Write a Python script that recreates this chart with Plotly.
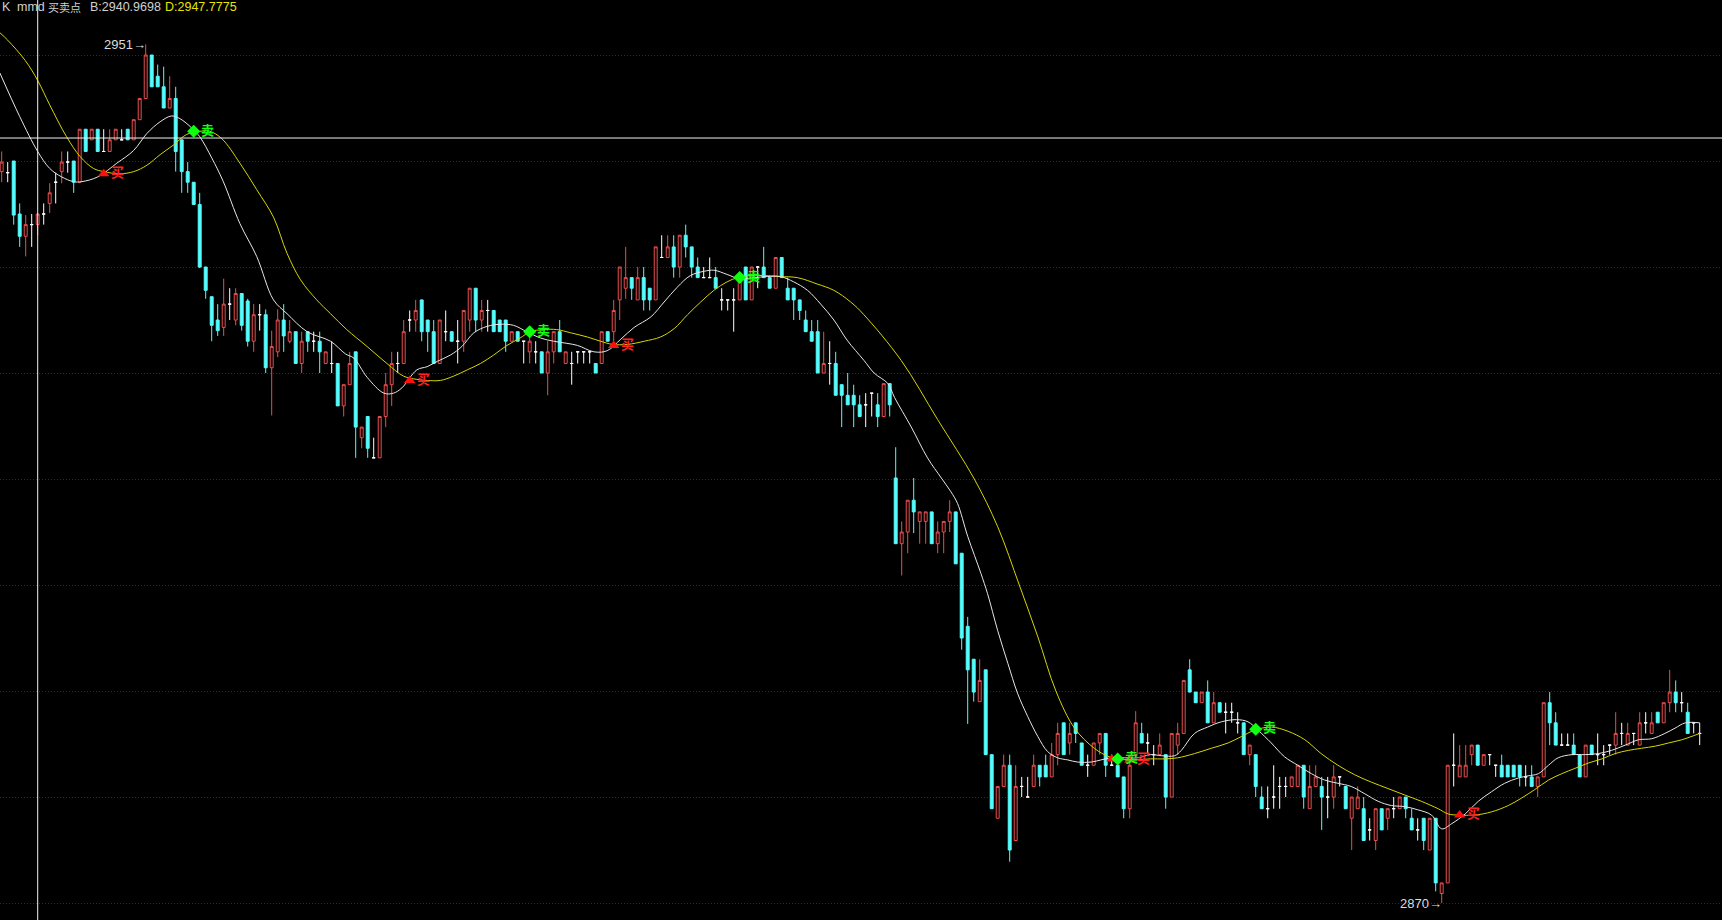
import plotly.graph_objects as go

# ---------------- data (one entry per bar) ----------------
opens = [
 2939.0,2938.9,2940.0,2935.0,2932.9,2934.0,2934.0,2935.0,2936.0,2938.0,
 2939.0,2939.9,2940.0,2938.0,2943.0,2942.0,2943.0,2940.9,2940.9,2942.0,
 2942.0,2943.0,2942.0,2943.9,2945.9,2950.0,2948.0,2947.0,2945.0,2945.9,
 2942.0,2939.0,2938.0,2935.9,2930.0,2927.2,2925.0,2924.3,2926.5,2925.0,
 2927.5,2926.8,2923.0,2925.5,2925.5,2920.5,2922.0,2925.0,2923.0,2923.9,
 2920.9,2923.9,2923.0,2923.0,2920.9,2920.9,2920.9,2916.9,2918.9,2922.0,
 2913.9,2915.9,2912.0,2912.0,2915.9,2918.9,2920.9,2920.9,2925.0,2925.0,
 2926.9,2925.0,2923.9,2920.9,2923.9,2923.9,2923.0,2923.0,2925.0,2928.0,
 2925.0,2925.9,2925.9,2925.0,2925.0,2923.0,2923.9,2923.0,2922.0,2922.0,
 2922.0,2920.0,2922.0,2923.9,2920.9,2920.9,2922.0,2922.0,2922.0,2920.9,
 2920.9,2923.9,2923.9,2926.9,2928.0,2929.0,2926.9,2929.0,2928.0,2926.9,
 2930.9,2930.9,2931.9,2930.0,2933.0,2931.9,2930.0,2929.0,2929.0,2929.0,
 2926.9,2926.9,2926.9,2926.9,2930.0,2926.9,2930.0,2930.0,2929.0,2928.0,
 2930.9,2928.0,2928.0,2926.9,2925.0,2923.9,2923.9,2920.0,2920.9,2920.9,
 2918.9,2917.9,2917.9,2917.0,2917.0,2918.1,2917.0,2915.9,2919.0,2910.1,
 2903.9,2905.0,2908.0,2906.0,2906.0,2906.9,2903.9,2905.0,2906.0,2906.9,
 2903.0,2896.1,2893.0,2889.0,2892.0,2884.0,2878.0,2881.0,2883.0,2875.9,
 2881.0,2880.0,2881.0,2883.0,2883.0,2881.9,2884.0,2887.0,2885.1,2887.0,
 2885.1,2883.0,2883.0,2885.1,2886.0,2883.0,2883.0,2881.9,2878.9,2884.0,
 2886.0,2885.1,2884.0,2884.0,2884.0,2880.0,2884.9,2886.0,2892.0,2889.9,
 2888.9,2889.9,2887.0,2888.9,2888.0,2888.0,2887.0,2887.0,2884.0,2884.0,
 2880.0,2878.9,2880.0,2881.0,2881.0,2881.0,2881.0,2883.0,2878.9,2881.0,
 2881.0,2880.0,2880.0,2881.9,2881.0,2878.0,2878.9,2878.9,2876.9,2875.9,
 2878.9,2878.0,2878.9,2878.9,2880.0,2878.0,2876.9,2878.0,2875.0,2878.0,
 2870.9,2871.9,2883.0,2881.9,2881.9,2884.0,2884.9,2883.0,2884.0,2883.0,
 2883.0,2883.0,2883.0,2883.0,2881.9,2881.9,2881.0,2881.9,2888.9,2887.0,
 2884.9,2884.9,2884.9,2884.0,2881.9,2884.9,2884.0,2884.0,2884.9,2884.9,
 2886.0,2884.9,2886.0,2884.9,2887.0,2886.0,2888.0,2887.0,2888.9,2889.9,
 2888.9,2888.0,2887.0,2886.0]

highs = [
 2940.9,2939.9,2940.0,2936.0,2934.9,2935.0,2935.1,2936.0,2937.9,2938.9,
 2940.9,2940.9,2940.0,2943.0,2943.0,2943.0,2943.0,2943.0,2943.0,2943.0,
 2943.0,2943.0,2943.9,2945.9,2951.0,2950.0,2949.1,2948.9,2948.0,2947.0,
 2942.0,2939.9,2938.0,2937.0,2930.0,2927.2,2926.5,2928.9,2928.0,2928.0,
 2927.5,2927.0,2926.5,2926.5,2926.0,2924.0,2926.0,2926.5,2925.0,2923.9,
 2923.9,2923.9,2923.9,2923.9,2922.0,2923.0,2920.9,2918.9,2922.0,2922.0,
 2914.9,2915.9,2913.9,2915.9,2920.0,2922.0,2922.0,2925.0,2925.9,2926.9,
 2926.9,2925.0,2925.0,2925.0,2925.9,2923.9,2925.0,2925.9,2928.0,2928.0,
 2926.9,2926.9,2925.9,2925.0,2925.0,2923.9,2923.9,2923.0,2923.9,2923.0,
 2922.0,2923.0,2923.9,2925.0,2922.0,2922.0,2922.0,2922.0,2922.0,2920.9,
 2923.9,2923.9,2926.9,2930.0,2931.9,2929.0,2930.0,2930.0,2928.0,2931.9,
 2933.0,2933.0,2933.0,2933.0,2934.0,2931.9,2930.9,2930.0,2930.9,2930.0,
 2928.0,2926.9,2928.0,2929.0,2930.0,2930.0,2930.0,2931.9,2929.0,2930.9,
 2930.9,2929.0,2928.0,2926.9,2925.9,2925.0,2925.0,2923.9,2923.0,2922.0,
 2918.9,2920.0,2918.9,2917.9,2918.1,2918.1,2918.1,2919.0,2919.0,2913.0,
 2906.0,2908.0,2910.1,2906.9,2906.9,2906.9,2906.0,2906.0,2908.0,2906.9,
 2903.0,2897.0,2893.0,2893.0,2892.0,2884.0,2881.0,2884.0,2884.0,2883.0,
 2881.9,2881.9,2884.0,2883.0,2884.0,2885.1,2887.0,2887.0,2887.0,2887.0,
 2885.1,2884.0,2885.1,2886.0,2886.0,2884.0,2884.0,2881.9,2884.0,2888.1,
 2887.0,2886.0,2884.9,2886.0,2884.0,2886.0,2887.0,2891.0,2893.0,2889.9,
 2889.9,2891.0,2889.9,2888.9,2888.9,2888.9,2888.0,2887.0,2884.9,2884.0,
 2881.0,2881.0,2883.0,2881.9,2881.9,2881.9,2883.0,2883.0,2883.0,2883.0,
 2881.9,2881.9,2883.0,2881.9,2881.0,2880.0,2881.0,2880.0,2878.0,2878.9,
 2878.9,2878.9,2880.0,2880.0,2880.0,2878.9,2878.0,2878.0,2878.0,2878.0,
 2871.9,2883.0,2886.0,2884.9,2884.9,2884.9,2884.9,2884.0,2884.0,2883.0,
 2884.0,2883.0,2883.0,2883.0,2883.0,2883.0,2881.9,2888.9,2889.9,2888.0,
 2886.0,2886.0,2886.0,2884.0,2884.9,2884.9,2886.0,2884.9,2884.9,2888.0,
 2887.0,2887.0,2886.0,2888.0,2888.0,2888.0,2888.0,2888.9,2892.0,2891.0,
 2889.9,2888.9,2887.0,2887.0]

lows = [
 2938.0,2938.0,2934.0,2931.9,2931.0,2931.9,2933.0,2934.0,2935.1,2936.0,
 2937.9,2938.9,2937.0,2937.9,2940.9,2942.0,2940.9,2940.9,2940.9,2942.0,
 2942.0,2942.0,2942.0,2943.9,2945.9,2947.0,2947.0,2945.0,2945.0,2939.0,
 2937.0,2937.0,2935.9,2929.9,2927.0,2923.0,2923.5,2923.5,2925.0,2924.5,
 2924.0,2922.5,2922.0,2924.0,2920.0,2916.0,2921.5,2922.0,2922.8,2920.9,
 2920.0,2922.0,2922.0,2920.0,2920.9,2920.0,2916.9,2915.9,2918.9,2912.0,
 2912.9,2912.0,2912.0,2912.0,2914.9,2916.9,2920.0,2920.9,2923.9,2923.9,
 2923.0,2922.0,2920.9,2920.9,2923.0,2923.0,2920.9,2922.0,2923.9,2923.9,
 2923.9,2923.9,2923.9,2923.9,2922.0,2923.0,2923.0,2920.9,2920.9,2920.9,
 2920.0,2917.9,2920.9,2922.0,2920.9,2918.9,2920.9,2920.9,2920.9,2920.0,
 2920.9,2923.0,2923.0,2925.0,2927.0,2926.9,2926.9,2925.9,2925.9,2926.9,
 2930.9,2930.9,2929.0,2929.0,2930.9,2929.0,2929.0,2929.0,2929.0,2928.0,
 2925.9,2925.9,2923.9,2926.9,2926.9,2926.9,2928.0,2929.0,2928.0,2928.0,
 2929.0,2926.9,2925.0,2925.0,2923.9,2923.0,2920.0,2920.0,2918.9,2917.9,
 2914.9,2917.0,2914.9,2915.9,2914.9,2915.9,2914.9,2915.9,2915.9,2903.9,
 2900.9,2903.0,2904.9,2903.9,2903.9,2903.9,2903.0,2903.0,2905.0,2902.0,
 2893.9,2886.9,2889.0,2889.0,2884.0,2878.9,2878.0,2881.0,2873.9,2875.9,
 2880.0,2880.0,2881.0,2881.0,2881.9,2881.9,2883.0,2884.0,2884.0,2885.1,
 2883.0,2881.9,2883.0,2884.0,2881.9,2883.0,2881.9,2878.0,2878.0,2884.0,
 2885.1,2884.0,2883.0,2884.0,2878.9,2880.0,2884.0,2886.0,2889.9,2888.9,
 2888.9,2887.0,2887.0,2888.0,2886.0,2887.0,2886.0,2884.0,2883.0,2880.0,
 2878.9,2878.0,2878.9,2878.9,2880.0,2881.0,2881.0,2878.9,2878.9,2881.0,
 2876.9,2878.0,2878.9,2881.0,2878.9,2875.0,2878.9,2875.9,2875.9,2875.0,
 2876.9,2876.9,2878.0,2878.9,2878.0,2876.9,2875.9,2875.0,2875.0,2871.1,
 2870.0,2871.9,2881.0,2881.9,2881.9,2883.0,2883.0,2883.0,2883.0,2881.9,
 2881.9,2881.9,2881.9,2881.0,2881.0,2881.0,2880.0,2881.9,2884.9,2884.9,
 2884.9,2884.9,2884.0,2881.9,2881.9,2884.0,2883.0,2883.0,2884.0,2884.0,
 2884.9,2884.9,2884.9,2884.9,2886.0,2886.0,2887.0,2887.0,2888.0,2888.0,
 2888.0,2886.0,2886.0,2884.9]

closes = [
 2939.9,2938.9,2934.9,2932.9,2934.0,2934.0,2935.0,2935.0,2937.0,2938.0,
 2939.9,2939.9,2938.0,2943.0,2940.9,2943.0,2940.9,2940.9,2942.0,2943.0,
 2942.0,2942.0,2943.9,2945.9,2950.0,2947.0,2947.0,2945.0,2945.9,2940.9,
 2939.0,2938.0,2935.9,2930.0,2927.8,2924.5,2924.0,2926.5,2926.5,2927.5,
 2924.5,2923.0,2925.5,2925.5,2920.5,2922.5,2925.0,2923.5,2923.9,2920.9,
 2923.0,2923.0,2923.0,2922.0,2922.0,2920.9,2916.9,2918.9,2920.9,2914.9,
 2914.9,2912.9,2912.0,2915.9,2918.9,2920.9,2920.9,2923.9,2925.0,2925.9,
 2923.9,2923.9,2920.9,2925.0,2923.9,2923.0,2923.0,2925.9,2928.0,2925.0,
 2925.9,2925.9,2923.9,2923.9,2923.0,2923.9,2923.0,2923.0,2923.0,2922.0,
 2920.0,2922.0,2923.9,2922.0,2922.0,2920.9,2922.0,2922.0,2922.0,2920.0,
 2923.9,2923.0,2925.9,2930.0,2929.0,2928.0,2929.0,2926.9,2926.9,2931.9,
 2930.9,2931.9,2930.0,2933.0,2931.9,2930.0,2929.0,2929.0,2929.0,2928.0,
 2926.9,2926.9,2926.9,2929.0,2926.9,2930.0,2930.0,2929.0,2928.0,2930.9,
 2929.0,2926.9,2926.9,2925.9,2923.9,2923.0,2920.0,2920.9,2920.9,2917.9,
 2917.9,2917.0,2917.0,2915.9,2917.0,2918.1,2915.9,2919.0,2917.0,2903.9,
 2905.0,2908.0,2906.9,2906.9,2906.9,2903.9,2905.0,2906.0,2906.9,2902.0,
 2895.0,2892.0,2889.9,2891.0,2884.0,2878.9,2881.0,2883.0,2875.0,2881.0,
 2881.0,2880.0,2883.0,2881.9,2881.9,2884.0,2886.0,2884.0,2886.0,2886.0,
 2883.0,2883.0,2885.1,2886.0,2883.0,2883.0,2881.9,2878.9,2883.0,2887.0,
 2885.1,2885.1,2884.0,2884.9,2880.0,2886.0,2886.0,2891.0,2889.9,2888.9,
 2889.9,2887.0,2888.9,2888.0,2888.0,2888.0,2887.0,2884.0,2884.9,2881.0,
 2878.9,2878.9,2880.0,2881.0,2881.0,2881.9,2883.0,2880.0,2881.0,2881.9,
 2880.0,2880.0,2881.9,2881.9,2878.9,2880.0,2880.0,2875.9,2876.9,2878.9,
 2876.9,2878.9,2878.9,2880.0,2878.9,2876.9,2876.9,2875.9,2878.0,2871.9,
 2871.9,2883.0,2883.0,2883.0,2883.0,2884.9,2883.0,2884.0,2884.0,2883.0,
 2881.9,2881.9,2881.9,2881.9,2881.9,2881.0,2881.9,2888.9,2887.0,2884.9,
 2884.9,2884.9,2884.0,2881.9,2884.9,2884.0,2884.0,2884.0,2884.9,2886.0,
 2886.0,2886.0,2886.0,2887.0,2887.0,2887.0,2887.0,2888.9,2889.9,2888.9,
 2888.9,2886.0,2887.0,2886.0]

# white (fast) line, read as (bar position, value)
white_pts = [
 (-0.3,2948.3),(3,2944.2),(6,2940.9),(8,2939.3),(10,2938.5),(12,2938.05),(13.3,2938.05),
 (16,2938.5),(19.2,2939.8),(22,2941.0),(24.2,2942.6),(26.4,2943.7),(28.3,2944.25),
 (29.7,2944.0),(31.7,2943.1),(33,2942.3),(35,2940.3),(36.9,2938.1),(39.7,2934.1),
 (42.5,2931.0),(45.3,2926.9),(47.55,2925.6),(50.9,2923.9),(54.8,2923.0),(57.3,2921.8),
 (58.7,2921.4),(60.9,2919.6),(63.7,2918.1),(65.3,2918.1),(66.7,2918.6),(69.2,2920.3),
 (70.9,2920.6),(72.6,2921.1),(74.8,2921.7),(76.7,2922.5),(78.7,2923.8),(80.9,2924.4),
 (83.1,2924.6),(85.3,2924.5),(87.5,2923.9),(89.8,2923.3),(92,2923.0),(94.2,2922.8),
 (96,2922.6),(98.7,2922.0),(100.9,2922.1),(103.2,2923.2),(105.4,2924.3),(108.2,2925.3),
 (110.4,2926.7),(112.6,2928.1),(114.8,2929.2),(117.1,2929.6),(118.7,2929.7),(120.9,2929.3),
 (122.9,2928.9),(125.4,2929.0),(127.6,2929.1),(129.8,2929.1),(132,2928.6),(134.3,2927.8),
 (136.5,2926.5),(138.7,2925.0),(140.9,2923.1),(143.7,2921.2),(145.4,2920.0),(147.7,2919.0),
 (148.8,2917.7),(151.6,2914.9),(154.3,2912.0),(156.6,2910.1),(158.2,2908.8),(159.3,2907.7),
 (161,2904.6),(163.2,2901.1),(164.3,2899.2),(166,2895.7),(167.7,2892.6),(169.3,2889.8),
 (171,2887.6),(172.7,2885.7),(174.3,2884.3),(176,2883.7),(177.7,2883.5),(179.3,2883.3),
 (181.6,2883.3),(183.2,2883.5),(184.9,2883.7),(187.1,2883.7),(189.3,2883.7),(191.5,2884.0),
 (193.3,2883.9),(195.5,2883.9),(196.6,2884.4),(198.8,2886.0),(201,2886.6),(203.3,2887.1),
 (205.8,2887.3),(207.7,2887.1),(209.4,2886.3),(211.6,2885.1),(213.8,2883.8),(216,2883.0),
 (218.3,2882.2),(220.5,2881.6),(222.7,2881.3),(224.9,2881.0),(227.2,2880.3),(229.4,2879.6),
 (231.6,2879.2),(233.8,2879.1),(236,2878.8),(238.3,2878.3),(240,2877.0),(241.7,2877.5),
 (243.9,2878.4),(246.1,2879.6),(248.3,2880.5),(250.5,2881.3),(252.8,2881.8),(254.4,2882.0),
 (256.1,2882.2),(257.8,2883.0),(259.4,2883.7),(261.7,2884.0),(263.9,2884.0),(266.1,2884.1),
 (268.3,2884.4),(270.6,2884.9),(272.8,2885.4),(275,2885.5),(277.2,2886.0),(278.9,2886.5),
 (280.6,2887.0),(283,2887.0)]

# yellow (slow) line, read as (bar position, value)
yellow_pts = [
 (-0.3,2952.1),(1,2951.4),(3.9,2949.5),(6,2947.6),(8,2945.3),(10.8,2942.3),(13.1,2940.4),
 (15.3,2939.3),(17,2939.0),(19.7,2938.8),(22,2939.0),(24.2,2939.6),(26.4,2940.6),
 (28.6,2941.5),(30.8,2942.5),(33,2942.8),(34.7,2942.8),(36.7,2942.1),(39.7,2939.8),
 (42.5,2937.3),(45.3,2934.7),(47.55,2931.3),(49.8,2928.8),(52.5,2926.9),(54.8,2925.6),
 (57.5,2924.1),(60.9,2922.5),(64.2,2920.9),(67,2919.7),(69.2,2919.4),(70.9,2919.3),
 (73.1,2919.3),(75.3,2919.7),(77.6,2920.3),(79.8,2920.9),(82,2921.7),(84.2,2922.6),
 (86.4,2923.3),(88.1,2923.9),(90.3,2924.1),(92.5,2924.1),(94.8,2923.8),(97.6,2923.4),
 (99.8,2923.0),(101.8,2922.7),(104.3,2922.7),(107.1,2923.0),(109.8,2923.4),(112.1,2924.2),
 (114.3,2925.5),(116.5,2926.7),(118.7,2927.8),(120.9,2928.6),(122.6,2929.0),(124.8,2929.2),
 (127,2929.2),(129.8,2929.1),(132.6,2929.0),(135.9,2928.4),(138.7,2927.8),(141.5,2926.7),
 (143.7,2925.5),(149.9,2921.2),(156,2915.6),(162.1,2910.0),(166,2905.5),(169.6,2900.0),
 (172.7,2895.1),(175.7,2890.0),(178.8,2886.5),(182.1,2884.6),(184.6,2883.8),(187.7,2883.5),
 (191.5,2883.6),(193.8,2883.6),(196,2883.7),(198.8,2884.1),(201.6,2884.6),(204.4,2885.1),
 (206.6,2885.7),(208.8,2886.3),(211.6,2886.6),(214.4,2886.2),(217.2,2885.4),(219.9,2884.1),
 (222.7,2883.0),(225.5,2882.1),(228.3,2881.4),(231.05,2880.8),(233.8,2880.2),(236.6,2879.6),
 (239.4,2878.9),(241.1,2878.4),(242.8,2878.3),(245.5,2878.3),(248.3,2878.6),(251.1,2879.2),
 (253.3,2879.9),(255.5,2880.7),(257.8,2881.6),(260,2882.2),(262.2,2882.7),(264.4,2883.2),
 (266.7,2883.6),(268.9,2884.1),(271.1,2884.4),(273.3,2884.6),(275.6,2884.8),(277.8,2885.1),
 (280,2885.4),(283,2886.0)]

# buy signals; the label of the one at bar 185 is hidden under the sell signal in the picture
buy_x = [17, 68, 102, 185, 188, 243]
buy_y = [2938.8, 2919.3, 2922.6, 2883.6, 2883.5, 2878.3]
buy_label = ["买", "买", "买", "", "买", "买"]
sell_x = [32, 88, 123, 186, 209]
sell_y = [2942.8, 2923.9, 2929.0, 2883.6, 2886.4]

grid_levels = [2870, 2880, 2890, 2900, 2910, 2920, 2930, 2940, 2950]
high_mark = (24, 2951)
low_mark = (240, 2870)
cross_bar = 6
cross_price = 2942.17
value_b = "2940.9698"
value_d = "2947.7775"

# ---------------- figure ----------------
UP_C = "rgb(236,78,78)"
DN_C = "#54fcfc"
n = len(closes)
idx = list(range(n))
up = [i for i in idx if closes[i] > opens[i]]
dn = [i for i in idx if closes[i] < opens[i]]
dj = [i for i in idx if closes[i] == opens[i]]


def candles(ids, color, fill):
    return go.Candlestick(
        x=ids,
        open=[opens[i] for i in ids], high=[highs[i] for i in ids],
        low=[lows[i] for i in ids], close=[closes[i] for i in ids],
        increasing=dict(line=dict(color=color, width=1), fillcolor=fill),
        decreasing=dict(line=dict(color=color, width=1), fillcolor=fill),
        whiskerwidth=0, showlegend=False, hoverinfo="skip")


fig = go.Figure()
fig.add_trace(candles(up, UP_C, "rgba(0,0,0,1)"))
fig.add_trace(candles(dn, DN_C, DN_C))
fig.add_trace(candles(dj, "#ffffff", "#ffffff"))

fig.add_trace(go.Scatter(x=[p[0] for p in yellow_pts], y=[p[1] for p in yellow_pts],
                         mode="lines", line=dict(color="#d6d600", width=1, shape="spline"),
                         showlegend=False, hoverinfo="skip"))
fig.add_trace(go.Scatter(x=[p[0] for p in white_pts], y=[p[1] for p in white_pts],
                         mode="lines", line=dict(color="#e6e6e6", width=1, shape="spline"),
                         showlegend=False, hoverinfo="skip"))

fig.add_trace(go.Scatter(x=buy_x, y=buy_y, mode="markers+text", text=buy_label,
                         textposition="middle right",
                         textfont=dict(color="#ff2020", size=13, family="Noto Sans CJK SC",
                                       weight="bold"),
                         marker=dict(symbol="triangle-up", size=10, color="#ff1010"),
                         showlegend=False, hoverinfo="skip"))
fig.add_trace(go.Scatter(x=sell_x, y=sell_y, mode="markers+text", text=["卖"] * len(sell_x),
                         textposition="middle right",
                         textfont=dict(color="#10ff10", size=13, family="Noto Sans CJK SC",
                                       weight="bold"),
                         marker=dict(symbol="diamond", size=10, color="#10ff10"),
                         showlegend=False, hoverinfo="skip"))

W, H = 1722, 920
fig.update_layout(
    width=W, height=H, margin=dict(l=0, r=0, t=0, b=0),
    paper_bgcolor="black", plot_bgcolor="black", showlegend=False,
    boxgap=0.3,
    xaxis=dict(range=[-0.283, 286.717], showgrid=False, zeroline=False,
               showticklabels=False, ticks="", rangeslider=dict(visible=False)),
    yaxis=dict(range=[2868.4, 2955.19], tickvals=grid_levels, showgrid=True,
               gridcolor="rgb(150,0,0)", griddash="1px,2px", gridwidth=1,
               zeroline=False, showticklabels=False, ticks=""),
)

# crosshair
fig.add_shape(type="line", xref="x", yref="paper", x0=cross_bar, x1=cross_bar, y0=0, y1=1,
              line=dict(color="#f2f2f2", width=1), layer="above")
fig.add_shape(type="line", xref="paper", yref="y", x0=0, x1=1, y0=cross_price, y1=cross_price,
              line=dict(color="#f2f2f2", width=1), layer="above")

LAT = "Liberation Sans, DejaVu Sans, Noto Sans CJK SC"
header = [
    (1, "K", "#d0d0d0", LAT, 12.5),
    (16, "mmd", "#d0d0d0", LAT, 12.5),
    (47, "买卖点", "#d0d0d0", "Noto Sans CJK SC", 11),
    (89, "B:" + value_b, "#d0d0d0", LAT, 12.5),
    (164, "D:" + value_d, "#e6e600", LAT, 12.5),
]
for px, txt, col, fam, sz in header:
    fig.add_annotation(xref="paper", yref="paper", x=px / W, y=1 - 7.5 / H, text=txt,
                       showarrow=False, xanchor="left", yanchor="middle",
                       font=dict(color=col, size=sz, family=fam), borderpad=0)

for (bx, by) in (high_mark, low_mark):
    fig.add_annotation(x=bx, y=by, text=f"{by}→", showarrow=False, xanchor="right",
                       yanchor="middle", xshift=1,
                       font=dict(color="#dcdcdc", size=13, family=LAT), borderpad=0)

fig.write_html("out.html", config={"displayModeBar": False},
               post_script="document.body.style.margin='0px';document.body.style.background='black';")
